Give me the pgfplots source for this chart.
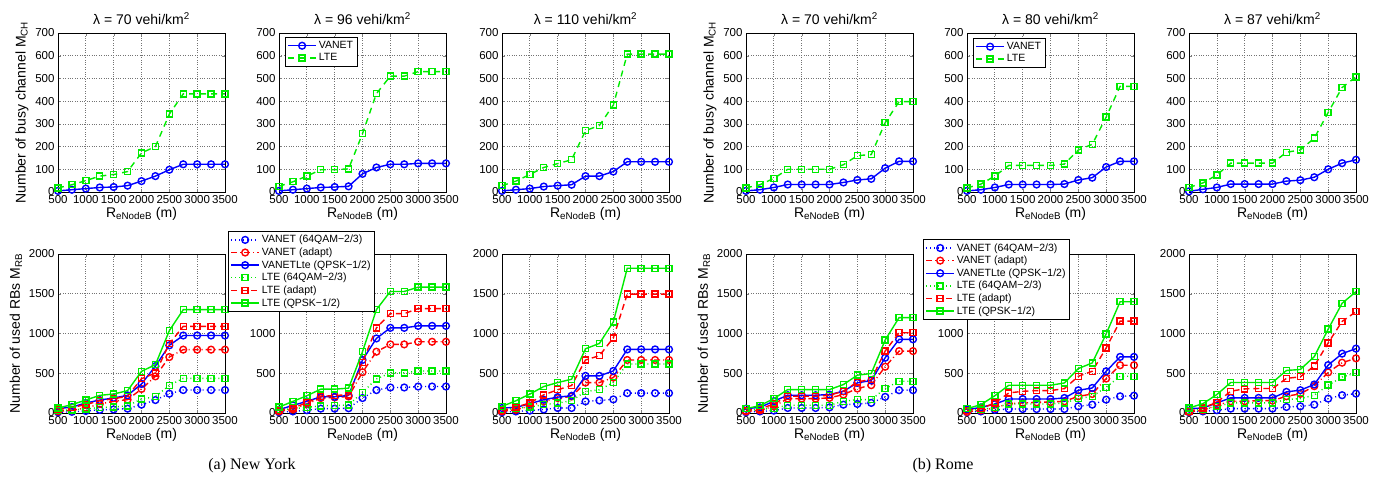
\documentclass[border=0pt]{standalone}
\usepackage{fontspec}
\setmainfont{Liberation Sans}
\newfontfamily\capfont{Liberation Serif}
\usepackage{pgfplots}
\usepackage{pgfplotstable}
\pgfplotsset{compat=1.18}
\definecolor{mblue}{RGB}{0,0,255}
\definecolor{mred}{RGB}{255,0,0}
\definecolor{mgreen}{RGB}{0,235,0}

% top row: busy channels (x, VANET, LTE)
\pgfplotstableread{
x v l
500 5 18
750 10 32
1000 15 50
1250 20 70
1500 22 77
1750 28 90
2000 48 172
2250 70 200
2500 98 343
2750 122 432
3000 122 432
3250 122 432
3500 122 432
}\tNYa
\pgfplotstableread{
x v l
500 5 25
750 10 45
1000 15 70
1250 20 98
1500 22 98
1750 25 102
2000 80 257
2250 108 433
2500 122 510
2750 122 510
3000 126 530
3250 126 530
3500 126 530
}\tNYb
\pgfplotstableread{
x v l
500 5 28
750 10 48
1000 15 77
1250 24 108
1500 28 125
1750 32 142
2000 70 270
2250 70 293
2500 90 383
2750 133 607
3000 133 607
3250 133 607
3500 133 607
}\tNYc
\pgfplotstableread{
x v l
500 5 18
750 10 32
1000 20 60
1250 33 100
1500 33 100
1750 33 100
2000 33 100
2250 42 120
2500 53 160
2750 58 165
3000 105 305
3250 135 398
3500 135 398
}\tRMa
\pgfplotstableread{
x v l
500 5 18
750 10 35
1000 20 70
1250 33 117
1500 33 117
1750 33 117
2000 33 117
2250 35 123
2500 53 185
2750 63 210
3000 110 330
3250 135 465
3500 135 465
}\tRMb
\pgfplotstableread{
x v l
500 3 20
750 12 40
1000 20 75
1250 35 127
1500 35 127
1750 35 127
2000 35 127
2250 48 175
2500 52 185
2750 65 237
3000 100 350
3250 127 460
3500 142 507
}\tRMc

% bottom row: used RBs
\pgfplotstableread{
x vq va vl lq la ll
500 10 21 55 30 42 63
750 15 34 75 40 71 105
1000 25 63 126 50 105 163
1250 40 113 163 70 155 222
1500 45 147 189 75 180 239
1750 55 168 222 90 210 281
2000 105 302 365 176 432 524
2250 163 461 590 205 503 608
2500 243 704 851 348 872 1036
2750 289 797 975 436 1090 1300
3000 289 797 975 436 1090 1300
3250 289 797 975 436 1090 1300
3500 289 797 975 436 1090 1300
}\bNYa
\pgfplotstableread{
x vq va vl lq la ll
500 10 21 42 40 33 75
750 20 46 96 55 63 146
1000 35 113 146 70 129 217
1250 55 188 204 90 208 300
1500 55 196 204 95 221 300
1750 60 208 221 100 229 313
2000 188 513 667 258 638 771
2250 288 771 938 429 1071 1300
2500 321 863 1071 504 1250 1529
2750 321 863 1071 504 1250 1529
3000 333 896 1096 529 1313 1583
3250 333 896 1096 529 1313 1583
3500 333 896 1096 529 1313 1583
}\bNYb
\pgfplotstableread{
x vq va vl lq la ll
500 10 21 63 40 33 83
750 20 42 71 60 75 154
1000 30 88 117 75 125 238
1250 45 146 167 104 229 333
1500 63 188 200 125 292 383
1750 63 208 217 154 346 425
2000 146 383 467 271 667 808
2250 158 383 467 292 721 875
2500 171 446 529 383 946 1146
2750 250 667 800 617 1496 1821
3000 250 667 800 617 1496 1821
3250 250 667 800 617 1496 1821
3500 250 667 800 617 1496 1821
}\bNYc
\pgfplotstableread{
x vq va vl lq la ll
500 10 20 55 30 34 55
750 20 34 71 45 50 93
1000 30 84 148 60 114 181
1250 63 181 224 97 211 295
1500 63 181 224 97 211 295
1750 63 181 224 97 211 295
2000 71 190 232 97 224 295
2250 105 232 274 148 274 358
2500 114 308 379 169 392 476
2750 127 350 409 169 421 497
3000 203 582 695 308 779 918
3250 287 779 927 400 1010 1200
3500 287 779 927 400 1010 1200
}\bRMa
\pgfplotstableread{
x vq va vl lq la ll
500 10 15 42 30 34 55
750 20 34 71 45 55 105
1000 40 63 113 70 126 218
1250 50 118 176 113 252 349
1500 50 126 176 113 273 349
1750 50 134 176 113 282 349
2000 50 139 176 113 282 349
2250 50 147 189 126 307 378
2500 84 210 286 181 462 559
2750 105 239 315 210 525 630
3000 168 433 525 324 819 996
3250 210 601 706 462 1155 1399
3500 218 601 706 462 1155 1399
}\bRMb
\pgfplotstableread{
x vq va vl lq la ll
500 10 15 55 30 21 63
750 20 34 63 45 63 118
1000 35 97 127 80 135 232
1250 55 148 190 127 274 384
1500 55 148 190 127 304 384
1750 55 156 190 127 308 384
2000 55 156 190 127 308 384
2250 76 211 266 169 435 535
2500 84 241 287 181 456 548
2750 105 338 359 224 591 709
3000 181 511 603 350 882 1055
3250 224 633 747 452 1152 1380
3500 244 688 810 506 1274 1527
}\bRMc

\pgfplotsset{
  base/.style={
    scale only axis, width=167pt, height=159pt,
    xmin=500, xmax=3500, xtick={500,1000,...,3500},
    grid=major, grid style={dotted, line width=0.7pt, black!55},
    tick align=inside, tick pos=both, major tick length=3pt,
    axis line style={line width=0.8pt},
    ticklabel style={font=\fontsize{11.5}{11.5}\selectfont},
    /pgf/number format/1000 sep={},
    /pgf/number format/assume math mode=true,
    xlabel={R\textsubscript{eNodeB} (m)},
    xlabel style={yshift=3pt},
    label style={font=\fontsize{14}{14}\selectfont},
    title style={font=\fontsize{14}{14}\selectfont, yshift=-1pt},
    clip mode=individual,
    every axis plot/.append style={line width=1.4pt},
    legend image code/.code={\draw[mark repeat=2,mark phase=2]
      plot coordinates {(0pt,0pt) (14pt,0pt) (28pt,0pt)};},
  },
  top/.style={base, ymin=0, ymax=700, ytick={0,100,...,700}},
  bot/.style={base, ymin=0, ymax=2000, ytick={0,500,...,2000}},
  leg/.style={legend cell align=left, legend style={font=\fontsize{10.5}{12}\selectfont,
    draw=black, line width=0.8pt, fill=white, anchor=north west, inner sep=2pt, row sep=-0.5pt}},
  pv/.style={mblue, solid, mark=o, mark size=3.4pt},
  pl/.style={mgreen, dash pattern=on 6pt off 5pt, mark=square, mark size=3pt, mark options={solid}},
  vq/.style={mblue, dash pattern=on 1pt off 3pt, mark=o, mark size=3.4pt, mark options={solid}},
  va/.style={mred, dash pattern=on 6pt off 3pt on 1pt off 3pt, mark=o, mark size=3.4pt, mark options={solid}},
  vl/.style={mblue, solid, mark=o, mark size=3.4pt},
  lq/.style={mgreen, dash pattern=on 1pt off 3pt, mark=square, mark size=3pt, mark options={solid}},
  la/.style={mred, dash pattern=on 6pt off 4pt, mark=square, mark size=3pt, mark options={solid}},
  ll/.style={mgreen, solid, mark=square, mark size=3pt},
}
\newcommand\twoplots[1]{%
  \addplot[pv] table[x=x,y=v]{#1};
  \addplot[pl] table[x=x,y=l]{#1};}
\newcommand\sixplots[1]{%
  \addplot[vq] table[x=x,y=vq]{#1};
  \addplot[va] table[x=x,y=va]{#1};
  \addplot[vl] table[x=x,y=vl]{#1};
  \addplot[lq] table[x=x,y=lq]{#1};
  \addplot[la] table[x=x,y=la]{#1};
  \addplot[ll] table[x=x,y=ll]{#1};}

\begin{document}
\begin{tikzpicture}
\path[use as bounding box] (0pt,0pt) rectangle (1375pt,-483pt);

% ---- top row ----
\begin{axis}[top, at={(58pt,-192pt)}, anchor=south west,
  title={λ = 70 vehi/km\textsuperscript{2}},
  ylabel={Number of busy channel M\textsubscript{CH}}]
\twoplots{\tNYa}
\end{axis}
\begin{axis}[top, at={(279pt,-192pt)}, anchor=south west,
  title={λ = 96 vehi/km\textsuperscript{2}}, leg,
  legend style={at={(0.036,0.975)}}]
\twoplots{\tNYb}
\legend{VANET,LTE}
\end{axis}
\begin{axis}[top, at={(502pt,-192pt)}, anchor=south west,
  title={λ = 110 vehi/km\textsuperscript{2}}]
\twoplots{\tNYc}
\end{axis}
\begin{axis}[top, at={(746pt,-192pt)}, anchor=south west,
  title={λ = 70 vehi/km\textsuperscript{2}},
  ylabel={Number of busy channel M\textsubscript{CH}}]
\twoplots{\tRMa}
\end{axis}
\begin{axis}[top, at={(967pt,-192pt)}, anchor=south west,
  title={λ = 80 vehi/km\textsuperscript{2}}, leg,
  legend style={at={(0.036,0.969)}}]
\twoplots{\tRMb}
\legend{VANET,LTE}
\end{axis}
\begin{axis}[top, at={(1189pt,-192pt)}, anchor=south west,
  title={λ = 87 vehi/km\textsuperscript{2}}]
\twoplots{\tRMc}
\end{axis}

% ---- bottom row ----
\begin{axis}[bot, at={(58pt,-413pt)}, anchor=south west,
  ylabel={Number of used RBs M\textsubscript{RB}}]
\sixplots{\bNYa}
\end{axis}
\begin{axis}[bot, at={(279pt,-413pt)}, anchor=south west, leg,
  legend style={at={(-0.305,1.145)}}]
\sixplots{\bNYb}
\legend{VANET (64QAM−2/3),VANET (adapt),VANETLte (QPSK−1/2),LTE (64QAM−2/3),LTE (adapt),LTE (QPSK−1/2)}
\end{axis}
\begin{axis}[bot, at={(502pt,-413pt)}, anchor=south west]
\sixplots{\bNYc}
\end{axis}
\begin{axis}[bot, at={(746pt,-413pt)}, anchor=south west,
  ylabel={Number of used RBs M\textsubscript{RB}}]
\sixplots{\bRMa}
\end{axis}
\begin{axis}[bot, at={(967pt,-413pt)}, anchor=south west, leg,
  legend style={at={(-0.263,1.094)}}]
\sixplots{\bRMb}
\legend{VANET (64QAM−2/3),VANET (adapt),VANETLte (QPSK−1/2),LTE (64QAM−2/3),LTE (adapt),LTE (QPSK−1/2)}
\end{axis}
\begin{axis}[bot, at={(1189pt,-413pt)}, anchor=south west]
\sixplots{\bRMc}
\end{axis}

\node[font=\capfont\fontsize{16}{16}\selectfont] at (252pt,-466pt) {(a) New York};
\node[font=\capfont\fontsize{16}{16}\selectfont] at (943pt,-466pt) {(b) Rome};
\end{tikzpicture}
\end{document}
